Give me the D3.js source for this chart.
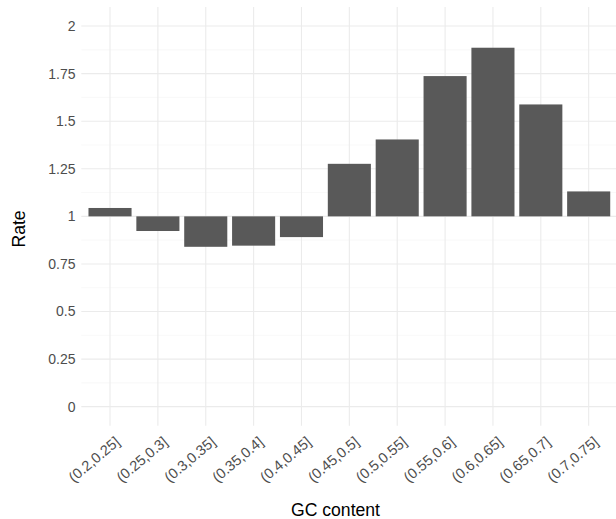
<!DOCTYPE html>
<html><head><meta charset="utf-8">
<script src="https://cdn.jsdelivr.net/npm/d3@7"></script>
<style>
html,body{margin:0;padding:0;background:#fff;}
svg{display:block;font-family:"Liberation Sans",Arial,Helvetica,sans-serif;}
</style></head>
<body><svg id="chart" width="616" height="519"></svg>
<script>
const categories = ["(0.2,0.25]","(0.25,0.3]","(0.3,0.35]","(0.35,0.4]","(0.4,0.45]","(0.45,0.5]","(0.5,0.55]","(0.55,0.6]","(0.6,0.65]","(0.65,0.7]","(0.7,0.75]"];
const rates = [1.044, 0.923, 0.840, 0.846, 0.891, 1.276, 1.404, 1.737, 1.886, 1.588, 1.131];
const yTicks = [0, 0.25, 0.5, 0.75, 1, 1.25, 1.5, 1.75, 2];
const yTickLabels = ["0", "0.25", "0.5", "0.75", "1", "1.25", "1.5", "1.75", "2"];
const yMinor = [0.125, 0.375, 0.625, 0.875, 1.125, 1.375, 1.625, 1.875];
const baseline = 1;
const xTitle = "GC content";
const yTitle = "Rate";

const svg = d3.select("#chart");
const panel = {left: 81.3, right: 617.4, top: 7, bottom: 425.7};

// discrete x with ggplot-like 0.6 expansion
const step = (panel.right - panel.left) / (categories.length - 1 + 1.2);
const x = d3.scaleBand().domain(categories)
  .range([panel.left + 0.1 * step, panel.right - 0.1 * step])
  .paddingInner(0.1).paddingOuter(0.05);
const xc = d => x(d) + x.bandwidth() / 2;

const y = d3.scaleLinear().domain([-0.1, 2.1]).range([panel.bottom, panel.top]);

const g = svg.append("g");

// minor gridlines
g.selectAll("line.minor").data(yMinor).join("line")
  .attr("x1", panel.left).attr("x2", panel.right)
  .attr("y1", d => y(d)).attr("y2", d => y(d))
  .attr("stroke", "#f3f3f3").attr("stroke-width", 0.6);
// major gridlines
g.selectAll("line.majy").data(yTicks).join("line")
  .attr("x1", panel.left).attr("x2", panel.right)
  .attr("y1", d => y(d)).attr("y2", d => y(d))
  .attr("stroke", "#ebebeb").attr("stroke-width", 1.1);
g.selectAll("line.majx").data(categories).join("line")
  .attr("x1", d => xc(d)).attr("x2", d => xc(d))
  .attr("y1", panel.top).attr("y2", panel.bottom)
  .attr("stroke", "#ebebeb").attr("stroke-width", 1.1);

// bars from baseline
g.selectAll("rect.bar").data(categories).join("rect")
  .attr("x", d => x(d))
  .attr("width", x.bandwidth())
  .attr("y", (d, i) => y(Math.max(rates[i], baseline)))
  .attr("height", (d, i) => Math.abs(y(rates[i]) - y(baseline)))
  .attr("fill", "#595959");

// y axis labels
const yAxis = d3.axisLeft(y).tickValues(yTicks)
  .tickFormat((d, i) => yTickLabels[i]).tickSize(0).tickPadding(0);
const ya = svg.append("g").attr("transform", "translate(75.5,0)").call(yAxis);
ya.select(".domain").remove();
ya.selectAll("text").attr("fill", "#4d4d4d").style("font-size", "14px")
  .style("font-family", "'Liberation Sans',Arial,sans-serif");

// x axis labels (rotated)
svg.selectAll("text.xlab").data(categories).join("text")
  .attr("class", "xlab")
  .attr("transform", d => `translate(${xc(d) + 4},435.5) rotate(-40)`)
  .attr("text-anchor", "end")
  .attr("dy", "0.72em")
  .attr("fill", "#4d4d4d")
  .style("font-size", "14.5px")
  .text(d => d);

// titles
svg.append("text").attr("x", 335.5).attr("y", 515.5)
  .attr("text-anchor", "middle").attr("fill", "#000")
  .style("font-size", "17.6px").text(xTitle);
svg.append("text").attr("transform", "translate(25,229) rotate(-90)")
  .attr("text-anchor", "middle").attr("fill", "#000")
  .style("font-size", "17.6px").text(yTitle);
</script></body></html>
